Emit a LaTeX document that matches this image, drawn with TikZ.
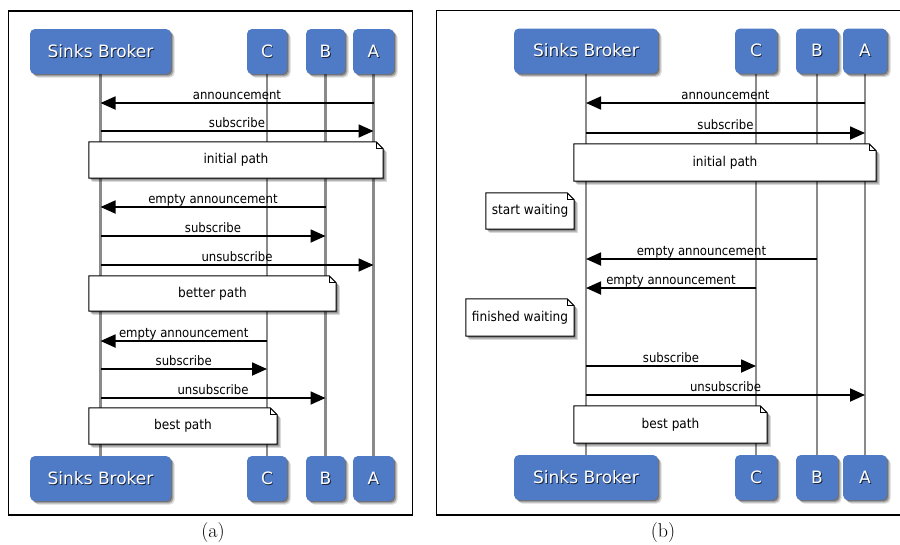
\documentclass[tikz,border=0pt]{standalone}
\usepackage{fontspec}
\usetikzlibrary{arrows.meta,shadows}
\newfontfamily\headfont{DejaVu Sans}
\newfontfamily\msgfont{DejaVu Sans Condensed}
\definecolor{actorblue}{RGB}{79,122,198}
\definecolor{lifegray}{RGB}{138,138,138}
\pgfdeclarelayer{lines}
\pgfdeclarelayer{paper}
\pgfsetlayers{lines,paper,main}
% white label with a dark offset copy behind it
\newcommand\shadowed[1]{\makebox[0pt][l]{\kern0.9pt\raisebox{-0.9pt}{\color{actorblue!30!black}#1}}#1}
% sheet with a folded corner behind a note node
\newcommand\notepaper[1]{%
  \begin{pgfonlayer}{paper}
    \draw[notepaper] (#1.north west) -- ([xshift=-7pt]#1.north east)
      -- ([yshift=-7pt]#1.north east) -- (#1.south east) -- (#1.south west) -- cycle;
    \draw[line width=0.7pt] ([xshift=-7pt]#1.north east) |- ([yshift=-7pt]#1.north east);
  \end{pgfonlayer}}
\tikzset{
  softshadow/.style={
    drop shadow={shadow xshift=1.2pt, shadow yshift=-1.2pt, opacity=0.3, fill=black},
    drop shadow={shadow xshift=2.4pt, shadow yshift=-2.4pt, opacity=0.25, fill=black},
    drop shadow={shadow xshift=3.6pt, shadow yshift=-3.6pt, opacity=0.15, fill=black}},
  actor/.style={rectangle, rounded corners=5pt, fill=actorblue, text=white,
    font=\headfont\fontsize{17}{20}\selectfont, minimum height=45pt, inner sep=0pt, softshadow},
  lifeline/.style={draw=lifegray, line width=2.2pt},
  msg/.style={line width=1.8pt, draw=black, -{Triangle[length=15pt,width=13pt,fill=black]}},
  msglabel/.style={font=\msgfont\fontsize{13}{15}\selectfont, anchor=base, inner sep=0pt, yshift=3.5pt},
  notebox/.style={rectangle, inner sep=0pt, font=\msgfont\fontsize{13.5}{16}\selectfont},
  notepaper/.style={fill=white, draw=black, line width=1pt, softshadow},
  frame/.style={draw=black, line width=1.6pt},
  caption/.style={font=\fontsize{20}{24}\selectfont, inner sep=0pt}
}
\begin{document}
\begin{tikzpicture}[x=1pt,y=-1pt]
\useasboundingbox (0,0) rectangle (900,544);

% ---------------- panel (a) ----------------
\draw[frame] (8.5,11) rectangle (412.5,515);
\node[caption] (capa) at (213,533) {(a)};

\node[actor, minimum width=141pt] (aBk) at (100.5,51.5) {\shadowed{Sinks Broker}};
\node[actor, minimum width=40pt]  (aC)  at (267,51.5)   {\shadowed{C}};
\node[actor, minimum width=39pt]  (aB)  at (325.5,51.5) {\shadowed{B}};
\node[actor, minimum width=41pt]  (aA)  at (373.5,51.5) {\shadowed{A}};
\node[actor, minimum width=141pt] (aBkF) at (100.5,478.5) {\shadowed{Sinks Broker}};
\node[actor, minimum width=40pt]  (aCF)  at (267,478.5)   {\shadowed{C}};
\node[actor, minimum width=39pt]  (aBF)  at (325.5,478.5) {\shadowed{B}};
\node[actor, minimum width=41pt]  (aAF)  at (373.5,478.5) {\shadowed{A}};

\begin{pgfonlayer}{lines}
  \draw[lifeline] (aBk) -- (aBkF);
  \draw[lifeline] (aC) -- (aCF);
  \draw[lifeline] (aB) -- (aBF);
  \draw[lifeline] (aA) -- (aAF);
\end{pgfonlayer}

\draw[msg] (aA |- 0,103) -- node[msglabel] {announcement} (aBk |- 0,103);
\draw[msg] (aBk |- 0,131) -- node[msglabel] {subscribe} (aA |- 0,131);
\node[notebox, minimum width=294pt, minimum height=36pt] (aN1) at (236,160) {initial path};
\notepaper{aN1}
\draw[msg] (aB |- 0,207) -- node[msglabel] {empty announcement} (aBk |- 0,207);
\draw[msg] (aBk |- 0,236) -- node[msglabel] {subscribe} (aB |- 0,236);
\draw[msg] (aBk |- 0,265) -- node[msglabel] {unsubscribe} (aA |- 0,265);
\node[notebox, minimum width=247pt, minimum height=35pt] (aN2) at (212.5,293.5) {better path};
\notepaper{aN2}
\draw[msg] (aC |- 0,341) -- node[msglabel] {empty announcement} (aBk |- 0,341);
\draw[msg] (aBk |- 0,369) -- node[msglabel] {subscribe} (aC |- 0,369);
\draw[msg] (aBk |- 0,398) -- node[msglabel] {unsubscribe} (aB |- 0,398);
\node[notebox, minimum width=188pt, minimum height=36pt] (aN3) at (183,426) {best path};
\notepaper{aN3}

% ---------------- panel (b) ----------------
\draw[frame] (906,10.5) -- (436.5,10.5) -- (436.5,515) -- (906,515);
\node[caption] (capb) at (663,533) {(b)};

\node[actor, minimum width=144pt] (bBk) at (586,51) {\shadowed{Sinks Broker}};
\node[actor, minimum width=42pt]  (bC)  at (756,51) {\shadowed{C}};
\node[actor, minimum width=42pt]  (bB)  at (817,51) {\shadowed{B}};
\node[actor, minimum width=44pt]  (bA)  at (865,51) {\shadowed{A}};
\node[actor, minimum width=144pt] (bBkF) at (586,477.5) {\shadowed{Sinks Broker}};
\node[actor, minimum width=42pt]  (bCF)  at (756,477.5) {\shadowed{C}};
\node[actor, minimum width=42pt]  (bBF)  at (817,477.5) {\shadowed{B}};
\node[actor, minimum width=44pt]  (bAF)  at (865,477.5) {\shadowed{A}};

\begin{pgfonlayer}{lines}
  \draw[lifeline] (bBk) -- (bBkF);
  \draw[lifeline] (bC) -- (bCF);
  \draw[lifeline] (bB) -- (bBF);
  \draw[lifeline] (bA) -- (bAF);
\end{pgfonlayer}

\draw[msg] (bA |- 0,103) -- node[msglabel] {announcement} (bBk |- 0,103);
\draw[msg] (bBk |- 0,133) -- node[msglabel] {subscribe} (bA |- 0,133);
\node[notebox, minimum width=302pt, minimum height=37pt] (bN1) at (725,162.5) {initial path};
\notepaper{bN1}
\node[notebox, minimum width=88pt, minimum height=36pt] (bN2) at (530,211) {start waiting};
\notepaper{bN2}
\draw[msg] (bB |- 0,259) -- node[msglabel] {empty announcement} (bBk |- 0,259);
\draw[msg] (bC |- 0,288) -- node[msglabel] {empty announcement} (bBk |- 0,288);
\node[notebox, minimum width=108pt, minimum height=37pt] (bN3) at (520,317.5) {finished waiting};
\notepaper{bN3}
\draw[msg] (bBk |- 0,366) -- node[msglabel] {subscribe} (bC |- 0,366);
\draw[msg] (bBk |- 0,395) -- node[msglabel] {unsubscribe} (bA |- 0,395);
\node[notebox, minimum width=193pt, minimum height=37pt] (bN4) at (670.5,424.5) {best path};
\notepaper{bN4}
\end{tikzpicture}
\end{document}
